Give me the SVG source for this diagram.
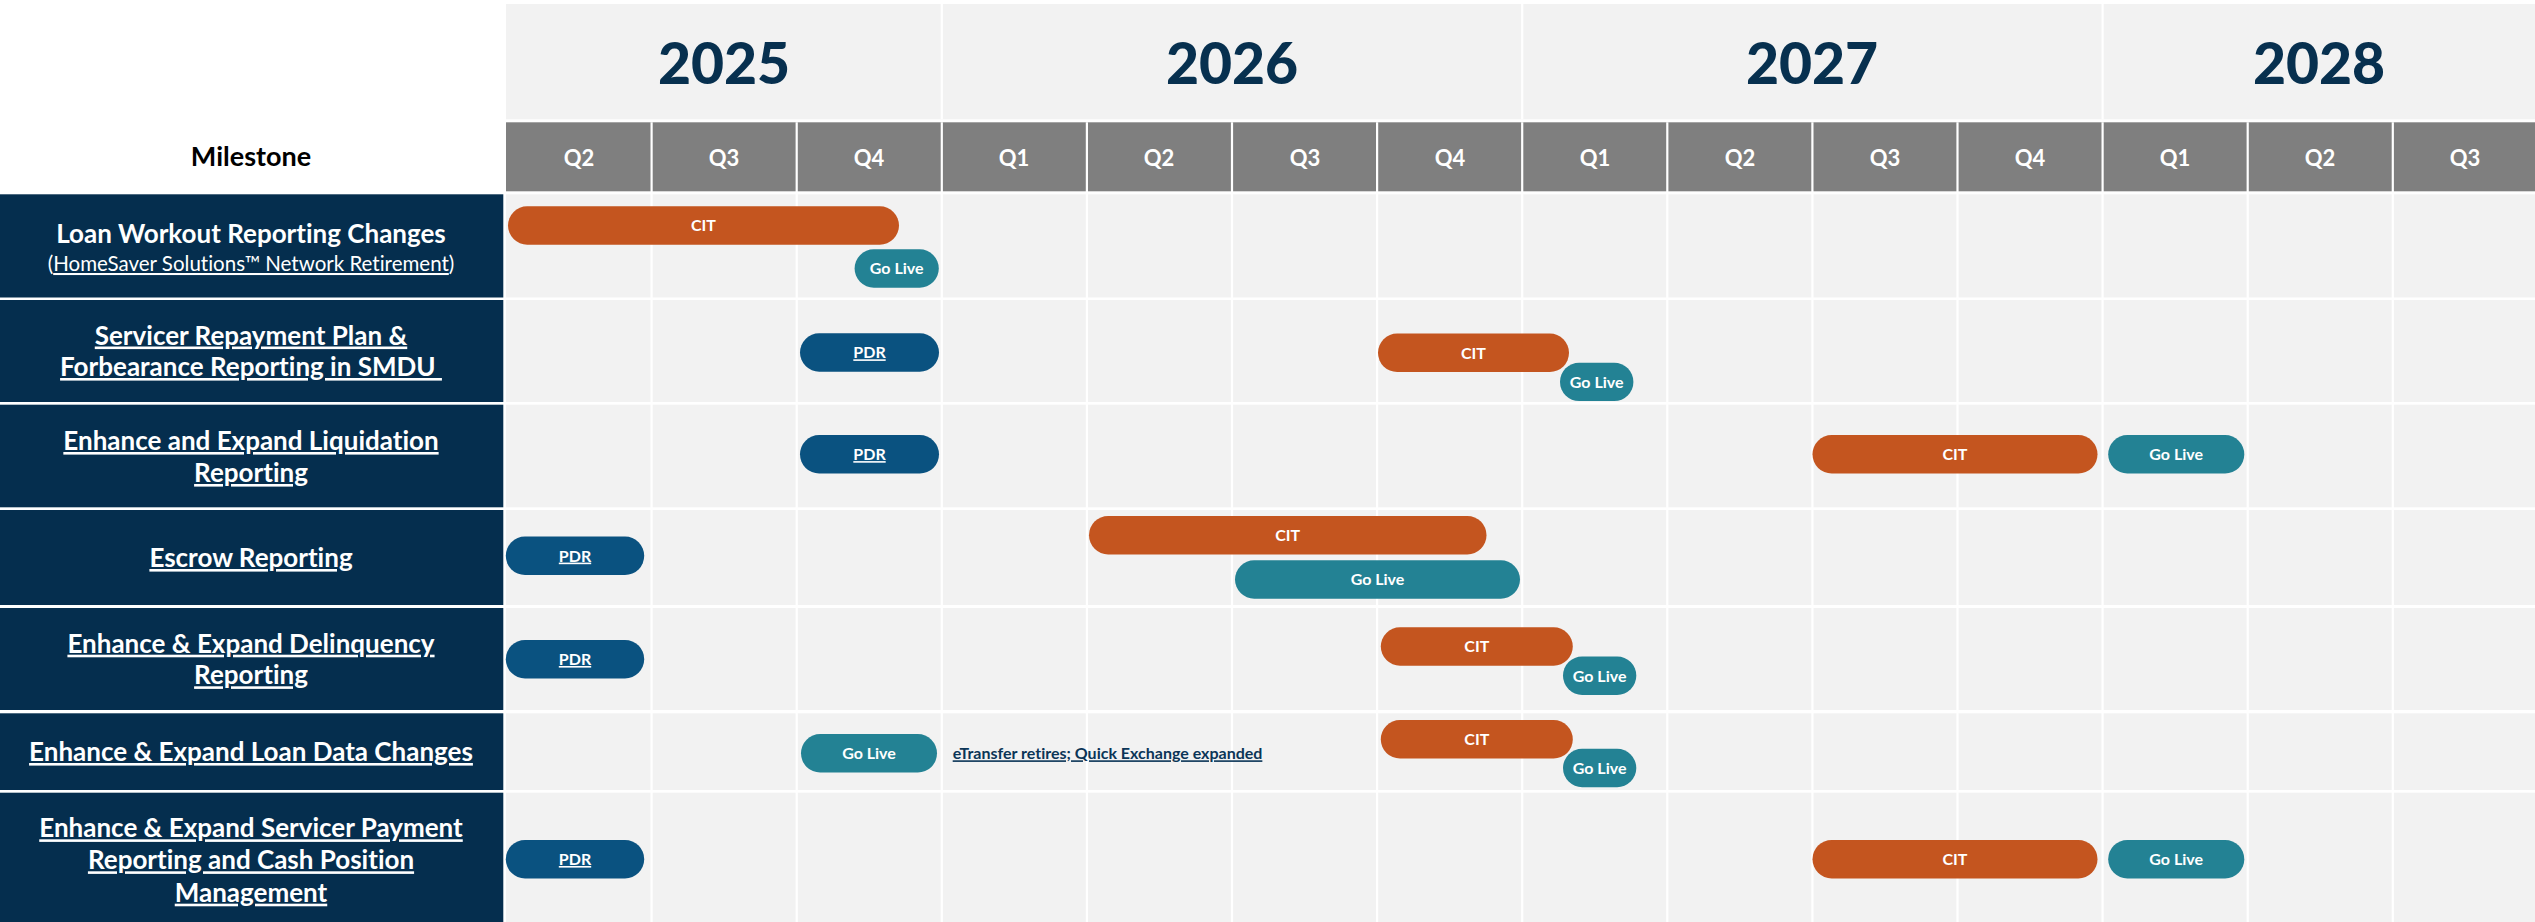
<svg xmlns="http://www.w3.org/2000/svg" width="2535" height="922" viewBox="0 0 2535 922">
<style>
text{font-family:Lato,"Noto Sans","Liberation Sans",sans-serif;font-variant-ligatures:none;}
.year{font-size:57px;font-weight:900;fill:#07304f;text-anchor:middle;}
.qtr{font-size:22px;font-weight:700;fill:#ffffff;text-anchor:middle;}
.hdr{font-size:27px;font-weight:700;fill:#000000;text-anchor:middle;}
.ms{fill:#052e4e;}
.lbl{font-size:26px;font-weight:700;fill:#ffffff;text-anchor:middle;}
.lblu{text-decoration:underline;}
.sub{font-size:20.5px;font-weight:400;fill:#ffffff;text-anchor:middle;}
.cit{fill:#c4551f;}
.live{fill:#238294;}
.pdr{fill:#0a5280;}
.bt{font-size:16px;font-weight:700;fill:#ffffff;text-anchor:middle;}
.note{font-size:16px;font-weight:700;fill:#0b3557;text-decoration:underline;}
.vl{stroke:#ffffff;stroke-width:2.2;}
.gap{fill:#ffffff;}
</style>
<rect x="0" y="0" width="2535" height="922" fill="#ffffff"/>

<g id="grid">
<rect x="506" y="194.3" width="2029" height="727.7" fill="#f2f2f2"/>
<rect class="gap" x="506" y="297.5" width="2029" height="2.5"/>
<rect class="gap" x="506" y="402" width="2029" height="2.7"/>
<rect class="gap" x="506" y="507.3" width="2029" height="2.7"/>
<rect class="gap" x="506" y="605" width="2029" height="3"/>
<rect class="gap" x="506" y="710" width="2029" height="3.3"/>
<rect class="gap" x="506" y="790" width="2029" height="2.7"/>
</g>

<g id="year-header">
<rect x="506" y="4" width="2029" height="115.3" fill="#f2f2f2"/>
<line class="vl" x1="941.8" y1="4" x2="941.8" y2="119.3"/>
<line class="vl" x1="1522.2" y1="4" x2="1522.2" y2="119.3"/>
<line class="vl" x1="2102.6" y1="4" x2="2102.6" y2="119.3"/>
<text class="year" x="724" y="84">2025</text>
<text class="year" x="1232" y="84">2026</text>
<text class="year" x="1812" y="84">2027</text>
<text class="year" x="2319" y="84">2028</text>
</g>

<g id="quarter-header">
<rect x="506" y="122.3" width="2029" height="69" fill="#7f7f7f"/>
<text class="hdr" x="251" y="166">Milestone</text>
<text class="qtr" x="579" y="166">Q2</text>
<text class="qtr" x="724" y="166">Q3</text>
<text class="qtr" x="869" y="166">Q4</text>
<text class="qtr" x="1014" y="166">Q1</text>
<text class="qtr" x="1159" y="166">Q2</text>
<text class="qtr" x="1305" y="166">Q3</text>
<text class="qtr" x="1450" y="166">Q4</text>
<text class="qtr" x="1595" y="166">Q1</text>
<text class="qtr" x="1740" y="166">Q2</text>
<text class="qtr" x="1885" y="166">Q3</text>
<text class="qtr" x="2030" y="166">Q4</text>
<text class="qtr" x="2175" y="166">Q1</text>
<text class="qtr" x="2320" y="166">Q2</text>
<text class="qtr" x="2465" y="166">Q3</text>
</g>

<g id="column-lines">
<line class="vl" x1="651.6" y1="122.3" x2="651.6" y2="922"/>
<line class="vl" x1="796.7" y1="122.3" x2="796.7" y2="922"/>
<line class="vl" x1="941.8" y1="122.3" x2="941.8" y2="922"/>
<line class="vl" x1="1086.9" y1="122.3" x2="1086.9" y2="922"/>
<line class="vl" x1="1232" y1="122.3" x2="1232" y2="922"/>
<line class="vl" x1="1377.1" y1="122.3" x2="1377.1" y2="922"/>
<line class="vl" x1="1522.2" y1="122.3" x2="1522.2" y2="922"/>
<line class="vl" x1="1667.3" y1="122.3" x2="1667.3" y2="922"/>
<line class="vl" x1="1812.4" y1="122.3" x2="1812.4" y2="922"/>
<line class="vl" x1="1957.5" y1="122.3" x2="1957.5" y2="922"/>
<line class="vl" x1="2102.6" y1="122.3" x2="2102.6" y2="922"/>
<line class="vl" x1="2247.7" y1="122.3" x2="2247.7" y2="922"/>
<line class="vl" x1="2392.8" y1="122.3" x2="2392.8" y2="922"/>
</g>

<g id="m1">
<rect class="ms" x="0" y="194.3" width="503.3" height="103.2"/>
<text class="lbl" x="251" y="243">Loan Workout Reporting Changes</text>
<text class="sub" x="251" y="271">(<tspan class="lblu">HomeSaver Solutions™ Network Retirement</tspan>)</text>
</g>
<g id="m2">
<rect class="ms" x="0" y="300" width="503.3" height="102"/>
<text class="lbl lblu" x="251" y="344.5">Servicer Repayment Plan &amp;</text>
<text class="lbl lblu" x="251" y="376">Forbearance Reporting in SMDU&#160;</text>
</g>
<g id="m3">
<rect class="ms" x="0" y="404.7" width="503.3" height="102.6"/>
<text class="lbl lblu" x="251" y="450">Enhance and Expand Liquidation</text>
<text class="lbl lblu" x="251" y="482">Reporting</text>
</g>
<g id="m4">
<rect class="ms" x="0" y="510" width="503.3" height="95"/>
<text class="lbl lblu" x="251" y="567">Escrow Reporting</text>
</g>
<g id="m5">
<rect class="ms" x="0" y="608" width="503.3" height="102"/>
<text class="lbl lblu" x="251" y="652.7">Enhance &amp; Expand Delinquency</text>
<text class="lbl lblu" x="251" y="684.3">Reporting</text>
</g>
<g id="m6">
<rect class="ms" x="0" y="713.3" width="503.3" height="76.7"/>
<text class="lbl lblu" x="251" y="761">Enhance &amp; Expand Loan Data Changes</text>
</g>
<g id="m7">
<rect class="ms" x="0" y="792.7" width="503.3" height="129.3"/>
<text class="lbl lblu" x="251" y="837.3">Enhance &amp; Expand Servicer Payment</text>
<text class="lbl lblu" x="251" y="869.3">Reporting and Cash Position</text>
<text class="lbl lblu" x="251" y="901.7">Management</text>
</g>

<g id="bars-m1">
<g id="m1-cit"><rect class="cit" x="508" y="206.3" width="391" height="38.4" rx="19.2"/><text class="bt" x="703.5" y="231.3">CIT</text></g>
<g id="m1-live"><rect class="live" x="854.6" y="249.3" width="84.2" height="38.4" rx="19.2"/><text class="bt" x="896.7" y="274.3">Go Live</text></g>
</g>
<g id="bars-m2">
<g id="m2-pdr"><rect class="pdr" x="800" y="333.3" width="139" height="38.4" rx="19.2"/><text class="bt lblu" x="869.5" y="358.3">PDR</text></g>
<g id="m2-cit"><rect class="cit" x="1378" y="333.6" width="191" height="38.4" rx="19.2"/><text class="bt" x="1473.5" y="358.6">CIT</text></g>
<g id="m2-live"><rect class="live" x="1560" y="362.7" width="73.4" height="38.4" rx="19.2"/><text class="bt" x="1596.7" y="387.7">Go Live</text></g>
</g>
<g id="bars-m3">
<g id="m3-pdr"><rect class="pdr" x="800" y="435.1" width="139" height="38.4" rx="19.2"/><text class="bt lblu" x="869.5" y="460.1">PDR</text></g>
<g id="m3-cit"><rect class="cit" x="1812.5" y="435.1" width="285" height="38.4" rx="19.2"/><text class="bt" x="1955" y="460.1">CIT</text></g>
<g id="m3-live"><rect class="live" x="2108.2" y="435.1" width="136.1" height="38.4" rx="19.2"/><text class="bt" x="2176.2" y="460.1">Go Live</text></g>
</g>
<g id="bars-m4">
<g id="m4-pdr"><rect class="pdr" x="505.8" y="536.6" width="138.4" height="38.4" rx="19.2"/><text class="bt lblu" x="575" y="561.6">PDR</text></g>
<g id="m4-cit"><rect class="cit" x="1089" y="516" width="397.5" height="38.4" rx="19.2"/><text class="bt" x="1287.7" y="541">CIT</text></g>
<g id="m4-live"><rect class="live" x="1235" y="560.3" width="285" height="38.4" rx="19.2"/><text class="bt" x="1377.5" y="585.3">Go Live</text></g>
</g>
<g id="bars-m5">
<g id="m5-pdr"><rect class="pdr" x="505.8" y="640" width="138.4" height="38.4" rx="19.2"/><text class="bt lblu" x="575" y="665">PDR</text></g>
<g id="m5-cit"><rect class="cit" x="1380.8" y="627.3" width="192" height="38.4" rx="19.2"/><text class="bt" x="1476.8" y="652.3">CIT</text></g>
<g id="m5-live"><rect class="live" x="1563" y="656.5" width="73.3" height="38.4" rx="19.2"/><text class="bt" x="1599.6" y="681.5">Go Live</text></g>
</g>
<g id="bars-m6">
<g id="m6-live1"><rect class="live" x="801" y="734.1" width="136" height="38.4" rx="19.2"/><text class="bt" x="869" y="759.1">Go Live</text></g>
<g id="m6-note"><text class="note" x="952.7" y="759.3">eTransfer retires; Quick Exchange expanded</text></g>
<g id="m6-cit"><rect class="cit" x="1380.8" y="720.1" width="192" height="38.4" rx="19.2"/><text class="bt" x="1476.8" y="745.1">CIT</text></g>
<g id="m6-live2"><rect class="live" x="1563" y="748.8" width="73.3" height="38.4" rx="19.2"/><text class="bt" x="1599.6" y="773.8">Go Live</text></g>
</g>
<g id="bars-m7">
<g id="m7-pdr"><rect class="pdr" x="505.8" y="840" width="138.4" height="38.4" rx="19.2"/><text class="bt lblu" x="575" y="865">PDR</text></g>
<g id="m7-cit"><rect class="cit" x="1812.5" y="840" width="285" height="38.4" rx="19.2"/><text class="bt" x="1955" y="865">CIT</text></g>
<g id="m7-live"><rect class="live" x="2108.2" y="840" width="136.1" height="38.4" rx="19.2"/><text class="bt" x="2176.2" y="865">Go Live</text></g>
</g>

<g id="connectors"/>
</svg>
